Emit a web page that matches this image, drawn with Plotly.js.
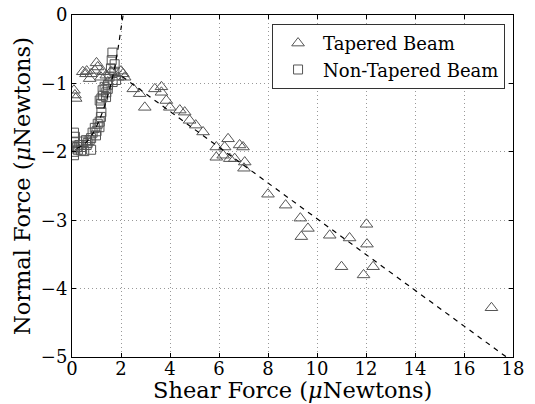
<!DOCTYPE html>
<html>
<head>
<meta charset="utf-8">
<script src="https://cdn.plot.ly/plotly-3.0.1.min.js"></script>
<style>html,body{margin:0;padding:0;background:#fff;}#chart{width:535px;height:404px;}</style>
</head>
<body>
<div id="chart"></div>
<script>
// Tapered Beam (triangles)
const taperedX = [0.08,0.12,0.15,0.44,0.57,0.6,0.72,0.78,0.93,1.0,1.05,1.18,1.27,1.4,1.46,1.59,1.87,2.0,2.08,2.15,2.5,2.76,2.97,3.38,3.65,3.65,3.85,3.99,4.4,4.6,4.8,5.05,5.35,5.89,6.23,6.37,5.89,6.17,6.44,6.64,6.84,6.98,7.05,7.02,8.0,8.72,9.32,9.63,9.36,10.52,11.33,12.02,12.04,11.0,12.29,11.9,17.12];
const taperedY = [-1.1,-1.17,-1.22,-0.83,-0.86,-0.82,-0.93,-0.86,-0.81,-0.7,-0.76,-0.91,-0.83,-0.88,-0.98,-0.83,-0.91,-0.82,-0.86,-0.91,-1.08,-1.15,-1.35,-1.08,-1.05,-1.13,-1.25,-1.35,-1.39,-1.42,-1.54,-1.61,-1.71,-1.93,-1.93,-1.81,-2.08,-2.05,-2.1,-2.1,-1.9,-1.93,-2.15,-2.24,-2.62,-2.78,-2.97,-3.12,-3.24,-3.22,-3.26,-3.06,-3.35,-3.68,-3.68,-3.8,-4.28];
// Non-Tapered Beam (squares)
const nonTaperedX = [0.08,0.1,0.12,0.1,0.12,0.08,0.2,0.24,0.3,0.37,0.38,0.45,0.5,0.57,0.6,0.64,0.72,0.78,0.78,0.84,0.93,0.98,1.0,1.05,1.12,1.13,1.18,1.2,1.18,1.13,1.2,1.27,1.39,1.25,1.4,1.33,1.46,1.47,1.53,1.66,1.8,1.73,1.59,1.74,1.62,1.65];
const nonTaperedY = [-2.05,-2.0,-1.95,-1.86,-1.78,-1.72,-1.93,-1.97,-1.9,-1.98,-1.93,-1.85,-1.99,-1.83,-1.9,-1.87,-1.83,-1.97,-1.8,-1.72,-1.65,-1.76,-1.7,-1.59,-1.64,-1.56,-1.49,-1.42,-1.3,-1.25,-1.22,-1.18,-1.2,-1.1,-1.13,-1.05,-1.08,-1.02,-0.9,-0.98,-0.95,-0.83,-0.78,-0.72,-0.66,-0.55];
// Fit curves (dashed)
const fitSteepX = [0.2,0.5,0.8,1.1,1.4,1.65,1.85,2.0,2.15];
const fitSteepY = [-1.95,-1.89,-1.76,-1.55,-1.25,-0.92,-0.55,-0.2,0.15];
const fitLinearX = [2.05,18];
const fitLinearY = [-0.9,-5.07];
const xTicks = [0,2,4,6,8,10,12,14,16,18];
const yTicks = [0,-1,-2,-3,-4,-5];
const xTitle = 'Shear Force (<i>μ</i>Newtons)';
const yTitle = 'Normal Force (<i>μ</i>Newtons)';

const serif = '"DejaVu Serif", serif';
const mk = {color:'#555', width:1};
const traces = [
  {x:taperedX, y:taperedY, mode:'markers', name:'Tapered Beam', type:'scatter',
   marker:{symbol:'triangle-up-open', size:11, color:'#555', line:mk}},
  {x:nonTaperedX, y:nonTaperedY, mode:'markers', name:'Non-Tapered Beam', type:'scatter',
   marker:{symbol:'square-open', size:9, color:'#555', line:mk}},
  {x:fitSteepX, y:fitSteepY, mode:'lines', showlegend:false, type:'scatter',
   line:{color:'#000', width:1.2, dash:'5px,5px', shape:'spline'}},
  {x:fitLinearX, y:fitLinearY, mode:'lines', showlegend:false, type:'scatter',
   line:{color:'#000', width:1.2, dash:'5px,5px'}}
];
const axisCommon = {
  showline:true, linecolor:'#000', linewidth:1, mirror:'ticks',
  ticks:'inside', ticklen:4, tickcolor:'#000',
  showgrid:true, gridcolor:'#999', griddash:'1px,3px', gridwidth:1,
  zeroline:false, tickfont:{family:serif, size:18, color:'#000'}
};
const titleFont = {family:serif, size:22.5, color:'#000'};
const layout = {
  width:535, height:404,
  margin:{l:72, r:22, t:15, b:47},
  paper_bgcolor:'#fff', plot_bgcolor:'#fff',
  showlegend:true,
  xaxis:Object.assign({}, axisCommon, {range:[0,18], tickvals:xTicks, ticktext:xTicks.map(String), ticklabelstandoff:-5}),
  yaxis:Object.assign({}, axisCommon, {range:[-5,0], tickvals:yTicks, ticktext:yTicks.map(v=>v<0?'\u2212'+Math.abs(v):String(v))}),
  annotations:[
    {text:xTitle, xref:'paper', yref:'paper', x:0.5, y:0, yshift:-18, xanchor:'center', yanchor:'top', showarrow:false, font:titleFont},
    {text:yTitle, xref:'paper', yref:'paper', x:0, y:0.5, xshift:-35, xanchor:'right', yanchor:'middle', textangle:-90, showarrow:false, font:titleFont}
  ],
  legend:{x:0.982, y:0.974, xanchor:'right', yanchor:'top', bgcolor:'#fff', itemwidth:40,
    bordercolor:'#333', borderwidth:1, font:{family:serif, size:18, color:'#000'}}
};
Plotly.newPlot('chart', traces, layout, {displayModeBar:false, staticPlot:true});
</script>
</body>
</html>
